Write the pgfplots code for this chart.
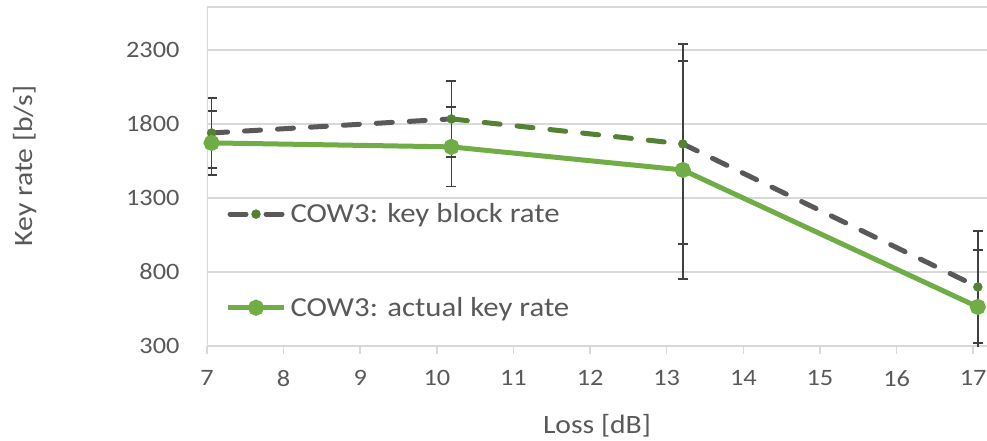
\documentclass[border=0pt]{standalone}
\usepackage{pgfplots}
\pgfplotsset{compat=1.18}
\usepackage{fontspec}
\setmainfont{Carlito}[FakeStretch=1.12]
\definecolor{gridgray}{HTML}{D9D9D9}
\definecolor{txtgray}{HTML}{595959}
\definecolor{lgreen}{HTML}{70AD47}
\definecolor{dgreen}{HTML}{548235}
\definecolor{dashgray}{HTML}{595959}
\definecolor{errgray}{HTML}{404040}
\pgfplotsset{
  blocklegend/.style={legend image code/.code={
    \draw[dashgray, line width=5pt, line cap=round] (2pt,0pt)--(18pt,0pt);
    \draw[dashgray, line width=5pt, line cap=round] (38pt,0pt)--(54pt,0pt);
    \draw[##1] plot coordinates {(28pt,0pt)};}},
  actlegend/.style={legend image code/.code={
    \draw[mark repeat=2, mark phase=2, ##1] plot coordinates {(0pt,0pt) (28pt,0pt) (56pt,0pt)};}},
}
\begin{document}
\begin{tikzpicture}
\useasboundingbox (-207pt,-95pt) rectangle (780pt,346pt);
\begin{axis}[
  scale only axis, width=780pt, height=339pt,
  xmin=7, xmax=17.18, ymin=300, ymax=2590,
  xtick={7,8,...,17}, ytick={300,800,1300,1800,2300},
  xtick pos=left,
  ymajorgrids, grid style={gridgray, line width=1.5pt},
  axis line style={draw=none},
  tick align=outside, major tick length=8pt,
  xtick style={gridgray, line width=1.5pt},
  ytick style={draw=none},
  /pgf/number format/assume math mode=true,
  /pgf/number format/1000 sep={},
  tick label style={font=\fontsize{23.5}{26}\selectfont, text=txtgray},
  yticklabel style={xshift=-16pt},
  xticklabel style={yshift=-13pt},
  xlabel={Loss [dB]}, ylabel={Key rate [b/s]},
  every axis x label/.style={at={(axis description cs:0.5,-0.235)}, anchor=center, font=\fontsize{26.5}{30}\selectfont, text=txtgray},
  every axis y label/.style={at={(axis description cs:-0.2333,0.531)}, rotate=90, anchor=center, font=\fontsize{26.5}{30}\selectfont, text=txtgray},
  legend style={at={(0.0235,0.251)}, anchor=west, draw=none, fill=none, font=\fontsize{27.5}{31}\selectfont, text=txtgray, row sep=69pt, inner sep=0pt,
    /tikz/every odd column/.append style={column sep=2pt}},
  legend cell align=left,
  error bars/error bar style={solid, errgray, line width=1.5pt},
  error bars/error mark options={rotate=90, mark size=5pt, errgray, line width=1.5pt},
]
\addplot[forget plot, dashgray, line width=5pt, line cap=round, dash pattern=on 16pt off 17pt] coordinates {(7.06,1739) (10.19,1834)};
\addplot[forget plot, dashgray, line width=5pt, line cap=round, dash pattern=on 16pt off 17pt] coordinates {(13.21,1665) (17.06,699)};
\addplot[forget plot, dgreen, line width=5pt, line cap=round, dash pattern=on 16pt off 17pt] coordinates {(10.19,1834) (13.21,1665)};
\addplot[only marks, mark=*, mark size=4.5pt, mark options={fill=dgreen, draw=dgreen, solid}, blocklegend,
  error bars/.cd, y dir=both, y explicit
] coordinates {
  (7.06,1739) +- (0,236)
  (10.19,1834) +- (0,257)
  (13.21,1665) +- (0,676)
  (17.06,699) +- (0,378)
};
\addplot[lgreen, line width=5pt, mark=*, mark size=5.5pt, mark options={fill=lgreen, draw=lgreen}, actlegend,
  error bars/.cd, y dir=both, y explicit
] coordinates {
  (7.06,1672) +- (0,216)
  (10.19,1645) +- (0,268)
  (13.21,1489) +- (0,736)
  (17.06,564) +- (0,385)
};
\legend{COW3: key block rate, COW3: actual key rate}
\draw[gridgray, line width=1.5pt] (rel axis cs:0,0) -- (rel axis cs:0,1) -- (rel axis cs:1,1);
\end{axis}
\end{tikzpicture}
\end{document}
